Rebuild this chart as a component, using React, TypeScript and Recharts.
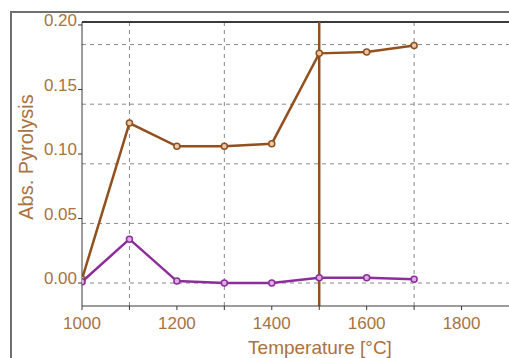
import React from 'react';
import { LineChart, Line, XAxis, YAxis, CartesianGrid, ReferenceLine } from 'recharts';

const temperatures = [1000, 1100, 1200, 1300, 1400, 1500, 1600, 1700];
const upperSeries = [0.003, 0.124, 0.106, 0.106, 0.108, 0.178, 0.179, 0.184];
const lowerSeries = [0.001, 0.034, 0.0015, 0, 0, 0.004, 0.004, 0.003];

const xTicks = [1000, 1100, 1200, 1300, 1400, 1500, 1600, 1700, 1800];
const yTicks = [0, 0.05, 0.1, 0.15, 0.2];
const gridX = [1100, 1300, 1500, 1700];
const gridY = [0, 0.0462, 0.0924, 0.1386, 0.1848];
const markerTemp = 1500;
const xDomain = [1000, 1900];
const yDomain = [-0.0178, 0.2023];

const BROWN = '#93501f';
const PURPLE = '#8d2d9c';
const TEXT = '#a9723e';
const AXIS = '#3a3a3a';
const FONT = '"Liberation Sans", Arial, sans-serif';

const data = temperatures.map((t, i) => ({ t, upper: upperSeries[i], lower: lowerSeries[i] }));

const YTick = (props: any) => {
  const { x, y, payload } = props;
  return (
    <text x={x - 1} y={y - 5} dy="0.355em" textAnchor="end" fill={TEXT} fontSize={17} fontFamily={FONT}>
      {payload.value.toFixed(2)}
    </text>
  );
};

const XTick = (props: any) => {
  const { x, y, payload } = props;
  if (payload.value % 200 !== 0) return null;
  return (
    <text x={x} y={y + 11} dy="0.355em" textAnchor="middle" fill={TEXT} fontSize={17} fontFamily={FONT}>
      {payload.value}
    </text>
  );
};

const titleStyle: React.CSSProperties = {
  position: 'absolute',
  color: TEXT,
  fontFamily: FONT,
  whiteSpace: 'nowrap',
  lineHeight: 1,
};

export default function App() {
  return (
    <div style={{ position: 'absolute', left: 0, top: 0, width: 509, height: 358, overflow: 'hidden', background: '#fff' }}>
      <LineChart width={509} height={358} data={data} margin={{ top: 22, right: 0, bottom: 0, left: 0 }}>
        <CartesianGrid stroke="#8a8a8a" strokeDasharray="4 4" horizontalValues={gridY} verticalValues={gridX} />
        <XAxis
          dataKey="t"
          type="number"
          domain={xDomain}
          allowDataOverflow
          ticks={xTicks}
          height={52}
          tickSize={4}
          tickMargin={2}
          tick={<XTick />}
          stroke={AXIS}
        />
        <YAxis
          type="number"
          domain={yDomain}
          allowDataOverflow
          ticks={yTicks}
          width={82}
          tickSize={4}
          tickMargin={0}
          tick={<YTick />}
          stroke={AXIS}
        />
        <ReferenceLine y={yDomain[1]} stroke={AXIS} strokeWidth={2} ifOverflow="visible" />
        <ReferenceLine x={markerTemp} stroke={BROWN} strokeWidth={2.5} />
        <Line
          dataKey="upper"
          stroke={BROWN}
          strokeWidth={2.5}
          dot={{ r: 3, fill: '#e6c9ab', stroke: BROWN, strokeWidth: 1.5 }}
          isAnimationActive={false}
        />
        <Line
          dataKey="lower"
          stroke={PURPLE}
          strokeWidth={2.5}
          dot={{ r: 3, fill: '#dcaee4', stroke: PURPLE, strokeWidth: 1.5 }}
          isAnimationActive={false}
        />
      </LineChart>
      <div
        style={{
          position: 'absolute',
          left: 10,
          top: 11,
          width: 560,
          height: 400,
          borderLeft: '2px solid #707070',
          borderTop: '2px solid #707070',
          pointerEvents: 'none',
        }}
      />
      <div style={{ ...titleStyle, left: 320, top: 347, fontSize: 19, transform: 'translate(-50%, -50%)' }}>
        Temperature [°C]
      </div>
      <div style={{ ...titleStyle, left: 26, top: 157, fontSize: 20, transform: 'translate(-50%, -50%) rotate(-90deg)' }}>
        Abs. Pyrolysis
      </div>
    </div>
  );
}
